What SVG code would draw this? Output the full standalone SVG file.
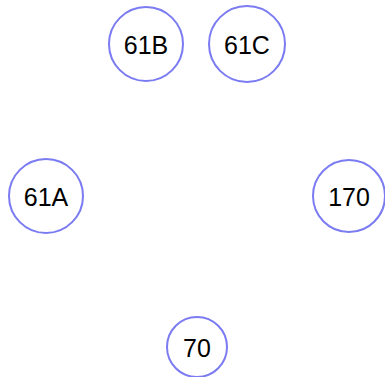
<svg xmlns="http://www.w3.org/2000/svg" width="385" height="377" viewBox="0 0 385 377">
<style>
.n circle{fill:#fff;stroke:#7b7bf2;stroke-width:2}
.n text{font-family:"Liberation Sans",Arial,sans-serif;font-size:25px;fill:#000;text-anchor:middle;dominant-baseline:central}
</style>
<rect width="385" height="377" fill="#fff"/>
<g id="connectors"></g>
<g id="n61B" class="n"><circle cx="146" cy="44" r="37"/><text x="146" y="45">61B</text></g>
<g id="n61C" class="n"><circle cx="247" cy="44" r="38"/><text x="247" y="45">61C</text></g>
<g id="n61A" class="n"><circle cx="46" cy="196" r="37"/><text x="46" y="197">61A</text></g>
<g id="n170" class="n"><circle cx="349" cy="196" r="36"/><text x="349" y="197">170</text></g>
<g id="n70" class="n"><circle cx="197" cy="347" r="30"/><text x="197" y="348">70</text></g>
</svg>
